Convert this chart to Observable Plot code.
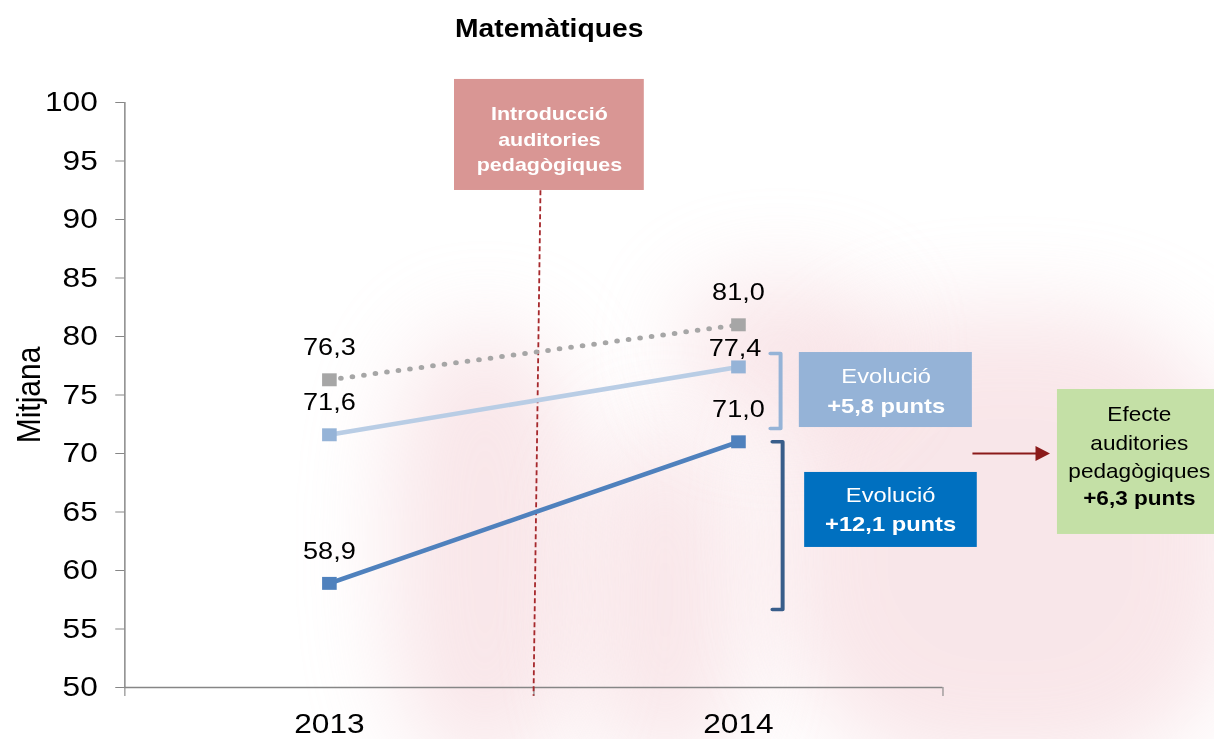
<!DOCTYPE html>
<html><head><meta charset="utf-8">
<script src="https://cdn.jsdelivr.net/npm/d3@7"></script>
<script src="https://cdn.jsdelivr.net/npm/@observablehq/plot@0.6"></script>
<style>
html,body{margin:0;padding:0;background:#fff;overflow:hidden;width:1214px;height:739px;position:relative}
#bg{position:absolute;left:0;top:0;width:1214px;height:739px;overflow:hidden;z-index:0}
#bg div{position:absolute;background:#f0c2c9;filter:blur(45px);opacity:.4;border-radius:40%}
#wrap{position:absolute;left:0;top:0;width:1074px;transform:scaleX(1.13);transform-origin:0 0;z-index:1}
#title{height:56px;width:972px;text-align:center;font:bold 25px "Liberation Sans",Arial,sans-serif;line-height:56px;color:#000}
</style></head>
<body>
<div id="bg">
  <div style="left:390px;top:330px;width:190px;height:440px"></div>
  <div style="left:590px;top:430px;width:150px;height:340px"></div>
  <div style="left:780px;top:310px;width:460px;height:460px"></div>
  <div style="left:680px;top:280px;width:200px;height:140px"></div>
</div>
<div id="wrap"><div id="title">Matemàtiques</div><div id="chart"></div></div>
<script>
// ---- data ----
const years = ["2013", "2014"];
const seriesNames = ["Gris", "BlauClar", "Blau"];
const grisValues = [76.3, 81.0];
const blauClarValues = [71.6, 77.4];
const blauValues = [58.9, 71.0];
const yTicks = [50, 55, 60, 65, 70, 75, 80, 85, 90, 95, 100];
const introText = "Introducció\nauditories\npedagògiques";
const evolClarText = ["Evolució", "+5,8 punts"];
const evolBlauText = ["Evolució", "+12,1 punts"];
const efecteText = ["Efecte\nauditories\npedagògiques", "+6,3 punts"];

// ---- build rows ----
const allValues = [grisValues, blauClarValues, blauValues];
const rows = seriesNames.flatMap((s, k) => allValues[k].map((v, i) => ({serie: s, i, year: years[i], v})));
const bySerie = s => rows.filter(d => d.serie === s);
const fmt = v => v.toFixed(1).replace(".", ",");

const colors = {Gris: "#A6A6A6", BlauClar: "#95B3D7", Blau: "#4F81BD"};
const lineColors = {Gris: "#A6A6A6", BlauClar: "#B9CDE5", Blau: "#4F81BD"};
const font = '"Liberation Sans", Arial, sans-serif';

const chart = Plot.plot({
  width: 1074, height: 683,
  marginTop: 46, marginBottom: 52, marginLeft: 110, marginRight: 240,
  style: {fontFamily: font, overflow: "visible", background: "transparent", color: "#000"},
  x: {type: "linear", domain: [-0.5, 1.5], axis: null},
  y: {domain: [50, 100], axis: null},
  marks: [
    // axes
    Plot.ruleX([-0.5], {y1: 50, y2: 100, stroke: "#868686", strokeWidth: 1.3}),
    Plot.ruleY([50], {x1: -0.5, x2: 1.5, stroke: "#868686", strokeWidth: 1.3}),
    Plot.axisY(yTicks, {anchor: "left", tickSize: 8, tickPadding: 16, fontSize: 28, stroke: "#868686", fill: "#000", tickFormat: d => String(d)}),
    Plot.axisX([-0.5, 0.5, 1.5], {anchor: "bottom", tickSize: 9, stroke: "#868686", tickFormat: () => ""}),
    Plot.axisX([0, 1], {anchor: "bottom", tickSize: 0, tickPadding: 26, fontSize: 28, fill: "#000", tickFormat: i => years[i]}),
    Plot.text(["Mitjana"], {x: -0.5, y: 75, dx: -85, rotate: -90, fontSize: 30, fill: "#000"}),

    // intro annotation
    Plot.link([{x1: 0.516, y1: 92.5, x2: 0.499, y2: 49.3}], {x1: "x1", y1: "y1", x2: "x2", y2: "y2", stroke: "#A6282C", strokeWidth: 1.6, strokeDasharray: "5 3"}),
    Plot.rect([{x1: 0.306, x2: 0.770, y1: 92.48, y2: 101.97}], {x1: "x1", x2: "x2", y1: "y1", y2: "y2", fill: "#D99694"}),
    Plot.text([introText], {x: 0.538, y: 97.01, fontSize: 19, fontWeight: "bold", fill: "#fff", lineHeight: 1.32}),

    // series lines
    Plot.line(bySerie("Gris"), {x: "i", y: "v", stroke: lineColors.Gris, strokeWidth: 5, strokeDasharray: "0 10.3", strokeLinecap: "round"}),
    Plot.line(bySerie("BlauClar"), {x: "i", y: "v", stroke: lineColors.BlauClar, strokeWidth: 4.5}),
    Plot.line(bySerie("Blau"), {x: "i", y: "v", stroke: lineColors.Blau, strokeWidth: 4.5}),
    Plot.dot(rows, {x: "i", y: "v", symbol: "square", r: 7.3, fill: d => colors[d.serie], stroke: "none"}),
    Plot.text(rows.filter(d => !(d.serie === "BlauClar" && d.i === 1)), {x: "i", y: "v", text: d => fmt(d.v), dy: -32, fontSize: 24, fill: "#000"}),
    Plot.text(rows.filter(d => d.serie === "BlauClar" && d.i === 1), {x: "i", y: "v", text: d => fmt(d.v), dy: -19, dx: -3, fontSize: 24, fill: "#000"}),

    // brackets
    Plot.line([{x: 1.078, y: 78.55}, {x: 1.103, y: 78.55}, {x: 1.103, y: 72.14}, {x: 1.078, y: 72.14}], {x: "x", y: "y", stroke: "#95B3D7", strokeWidth: 3.5}),
    Plot.line([{x: 1.083, y: 71.0}, {x: 1.108, y: 71.0}, {x: 1.108, y: 56.67}, {x: 1.083, y: 56.67}], {x: "x", y: "y", stroke: "#385D8A", strokeWidth: 3.5}),

    // evolution boxes
    Plot.rect([{x1: 1.149, x2: 1.572, y1: 72.22, y2: 78.63}], {x1: "x1", x2: "x2", y1: "y1", y2: "y2", fill: "#95B3D7"}),
    Plot.text([evolClarText[0]], {x: 1.361, y: 76.58, fontSize: 21, fill: "#fff"}),
    Plot.text([evolClarText[1]], {x: 1.361, y: 74.02, fontSize: 21, fontWeight: "bold", fill: "#fff"}),
    Plot.rect([{x1: 1.162, x2: 1.584, y1: 61.97, y2: 68.38}], {x1: "x1", x2: "x2", y1: "y1", y2: "y2", fill: "#0070C0"}),
    Plot.text([evolBlauText[0]], {x: 1.372, y: 66.41, fontSize: 21, fill: "#fff"}),
    Plot.text([evolBlauText[1]], {x: 1.372, y: 63.93, fontSize: 21, fontWeight: "bold", fill: "#fff"}),

    // arrow
    Plot.link([{x1: 1.572, x2: 1.73, y: 70.0}], {x1: "x1", x2: "x2", y1: "y", y2: "y", stroke: "#8B1A1A", strokeWidth: 2}),
    Plot.dot([{x: 1.738, y: 70.0}], {x: "x", y: "y", symbol: "triangle", rotate: 90, r: 5.5, fill: "#8B1A1A", stroke: "none"}),

    // effect box
    Plot.rect([{x1: 1.780, x2: 2.201, y1: 63.08, y2: 75.47}], {x1: "x1", x2: "x2", y1: "y1", y2: "y2", fill: "#C4E0A6"}),
    Plot.text([efecteText[0]], {x: 1.98, y: 71.11, fontSize: 20, fill: "#000", lineHeight: 1.42}),
    Plot.text([efecteText[1]], {x: 1.98, y: 66.15, fontSize: 20, fontWeight: "bold", fill: "#000"})
  ]
});
document.getElementById("chart").appendChild(chart);
</script>
</body></html>
